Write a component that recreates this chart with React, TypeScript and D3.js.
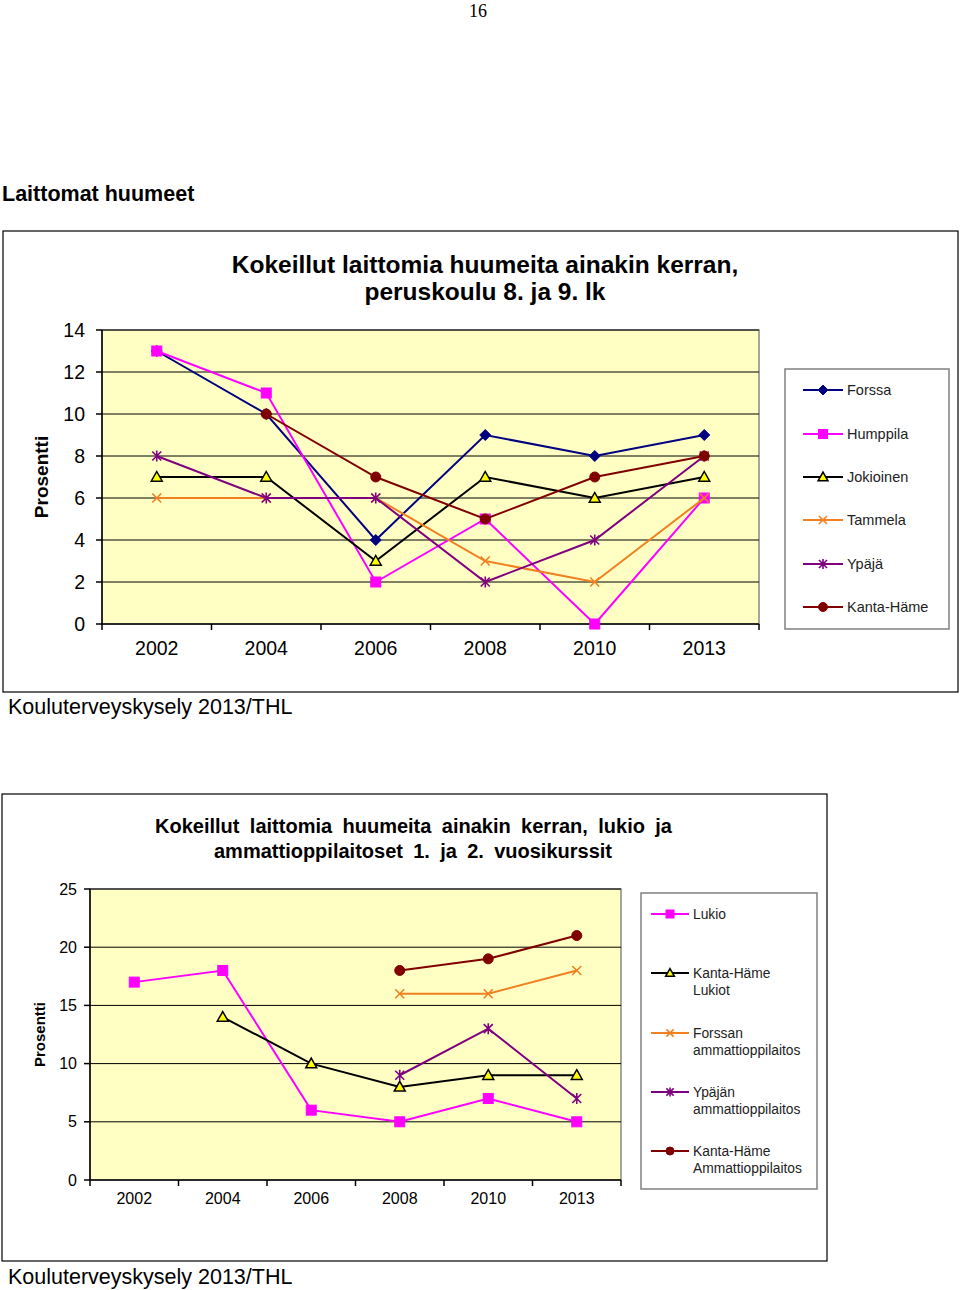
import React, { useLayoutEffect, useRef } from "react";
import * as d3 from "d3";

const years = ["2002", "2004", "2006", "2008", "2010", "2013"];

// Chart 1: peruskoulu
const forssa = [13, 10, 4, 9, 8, 9];
const humppila = [13, 11, 2, 5, 0, 6];
const jokioinen = [7, 7, 3, 7, 6, 7];
const tammela = [6, 6, 6, 3, 2, 6];
const ypaja = [8, 6, 6, 2, 4, 8];
const kantaHame = [null, 10, 7, 5, 7, 8];

// Chart 2: lukio ja ammattioppilaitokset
const lukio = [17, 18, 6, 5, 7, 5];
const khLukiot = [null, 14, 10, 8, 9, 9];
const forssanAmm = [null, null, null, 16, 16, 18];
const ypajanAmm = [null, null, null, 9, 13, 7];
const khAmm = [null, null, null, 18, 19, 21];

const yTicks1 = [0, 2, 4, 6, 8, 10, 12, 14];
const yTicks2 = [0, 5, 10, 15, 20, 25];

type Marker = "diamond" | "square" | "triangle" | "x" | "star" | "circle";
type Series = { name: string[]; values: (number | null)[]; color: string; marker: Marker };

const series1: Series[] = [
  { name: ["Forssa"], values: forssa, color: "#000080", marker: "diamond" },
  { name: ["Humppila"], values: humppila, color: "#FF00FF", marker: "square" },
  { name: ["Jokioinen"], values: jokioinen, color: "#000000", marker: "triangle" },
  { name: ["Tammela"], values: tammela, color: "#F08020", marker: "x" },
  { name: ["Ypäjä"], values: ypaja, color: "#800080", marker: "star" },
  { name: ["Kanta-Häme"], values: kantaHame, color: "#800000", marker: "circle" },
];

const series2: Series[] = [
  { name: ["Lukio"], values: lukio, color: "#FF00FF", marker: "square" },
  { name: ["Kanta-Häme", "Lukiot"], values: khLukiot, color: "#000000", marker: "triangle" },
  { name: ["Forssan", "ammattioppilaitos"], values: forssanAmm, color: "#F08020", marker: "x" },
  { name: ["Ypäjän", "ammattioppilaitos"], values: ypajanAmm, color: "#800080", marker: "star" },
  { name: ["Kanta-Häme", "Ammattioppilaitos"], values: khAmm, color: "#800000", marker: "circle" },
];

const FONT = "'Liberation Sans', Arial, sans-serif";

function JustifiedText({ x, y, width, size, children }: { x: number; y: number; width: number; size: number; children: string }) {
  const ref = useRef<SVGTextElement>(null);
  useLayoutEffect(() => {
    const el = ref.current;
    if (!el) return;
    el.setAttribute("word-spacing", "0");
    const natural = el.getComputedTextLength();
    const spaces = (children.match(/ /g) || []).length;
    if (spaces > 0) el.setAttribute("word-spacing", String((width - natural) / spaces));
  }, [children, width]);
  return (
    <text ref={ref} x={x} y={y} dy="0.35em" fontFamily={FONT} fontWeight="bold" fontSize={size} fill="#000">{children}</text>
  );
}

function MarkerShape({ type, x, y, color, s }: { type: Marker; x: number; y: number; color: string; s: number }) {
  switch (type) {
    case "diamond":
      return <path d={`M${x},${y - s * 0.55} L${x + s * 0.55},${y} L${x},${y + s * 0.55} L${x - s * 0.55},${y} Z`} fill={color} stroke={color} strokeWidth={1} />;
    case "square":
      return <rect x={x - s / 2} y={y - s / 2} width={s} height={s} fill="#FF00FF" stroke="#FF00FF" strokeWidth={1} />;
    case "triangle":
      return <path d={`M${x},${y - s * 0.55} L${x + s * 0.55},${y + s * 0.42} L${x - s * 0.55},${y + s * 0.42} Z`} fill="#FFFF00" stroke="#000" strokeWidth={1.5} />;
    case "x":
      return <path d={`M${x - s * 0.45},${y - s * 0.45} L${x + s * 0.45},${y + s * 0.45} M${x - s * 0.45},${y + s * 0.45} L${x + s * 0.45},${y - s * 0.45}`} stroke={color} strokeWidth={1.6} />;
    case "star":
      return <path d={`M${x - s * 0.45},${y - s * 0.45} L${x + s * 0.45},${y + s * 0.45} M${x - s * 0.45},${y + s * 0.45} L${x + s * 0.45},${y - s * 0.45} M${x},${y - s * 0.55} L${x},${y + s * 0.55}`} stroke={color} strokeWidth={1.6} />;
    case "circle":
      return <circle cx={x} cy={y} r={s * 0.5} fill={color} stroke={color} strokeWidth={1} />;
  }
}

type ChartCfg = {
  left: number; right: number; top: number; bottom: number;
  yMax: number; yTicks: number[]; series: Series[];
  tickFont: number; yLabelX: number; xLabelY: number;
  markerSize: number; promptX: number; promptFont: number;
};

function Chart({ cfg }: { cfg: ChartCfg }) {
  const x = d3.scaleBand<string>().domain(years).range([cfg.left, cfg.right]).padding(0);
  const y = d3.scaleLinear().domain([0, cfg.yMax]).range([cfg.bottom, cfg.top]);
  const cx = (i: number) => (x(years[i]) as number) + x.bandwidth() / 2;
  const line = d3
    .line<number | null>()
    .defined((d) => d !== null)
    .x((_, i) => cx(i))
    .y((d) => y(d as number));
  const boundaries = years.map((yy) => x(yy) as number).concat([cfg.right]);
  return (
    <g>
      <rect x={cfg.left} y={cfg.top} width={cfg.right - cfg.left} height={cfg.bottom - cfg.top} fill="#FFFFC4" stroke="#888" strokeWidth={1.5} />
      {cfg.yTicks.map((t) => (
        <g key={t}>
          {t > 0 && <line x1={cfg.left} x2={cfg.right} y1={y(t)} y2={y(t)} stroke="#000" strokeWidth={1} />}
          <line x1={cfg.left - 6} x2={cfg.left} y1={y(t)} y2={y(t)} stroke="#000" strokeWidth={1.5} />
          <text x={cfg.yLabelX} y={y(t)} dy="0.35em" textAnchor="end" fontFamily={FONT} fontSize={cfg.tickFont} fill="#000">{t}</text>
        </g>
      ))}
      <line x1={cfg.left} x2={cfg.left} y1={cfg.top} y2={cfg.bottom} stroke="#000" strokeWidth={1.5} />
      <line x1={cfg.left} x2={cfg.right} y1={cfg.bottom} y2={cfg.bottom} stroke="#000" strokeWidth={1.5} />
      {boundaries.map((b, i) => (
        <line key={i} x1={b} x2={b} y1={cfg.bottom} y2={cfg.bottom + 6} stroke="#000" strokeWidth={1.5} />
      ))}
      {years.map((yy, i) => (
        <text key={yy} x={cx(i)} y={cfg.xLabelY} dy="0.35em" textAnchor="middle" fontFamily={FONT} fontSize={cfg.tickFont} fill="#000">{yy}</text>
      ))}
      <text transform={`translate(${cfg.promptX},${(cfg.top + cfg.bottom) / 2}) rotate(-90)`} textAnchor="middle" dy="0.35em" fontFamily={FONT} fontWeight="bold" fontSize={cfg.promptFont} fill="#000">Prosentti</text>
      {cfg.series.map((s, si) => (
        <g key={si}>
          <path d={line(s.values) || ""} fill="none" stroke={s.color} strokeWidth={2} />
          {s.values.map((v, i) =>
            v === null ? null : <MarkerShape key={i} type={s.marker} x={cx(i)} y={y(v)} color={s.color} s={cfg.markerSize} />
          )}
        </g>
      ))}
    </g>
  );
}

function Legend({ series, x, y, w, h, rows, lineX1, lineX2, textX, font, lineGap, markerSize }: any) {
  return (
    <g>
      <rect x={x} y={y} width={w} height={h} fill="#fff" stroke="#808080" strokeWidth={1.5} />
      {series.map((s: Series, i: number) => (
        <g key={i}>
          <line x1={lineX1} x2={lineX2} y1={rows[i]} y2={rows[i]} stroke={s.color} strokeWidth={2} />
          <MarkerShape type={s.marker} x={(lineX1 + lineX2) / 2} y={rows[i]} color={s.color} s={markerSize} />
          {s.name.map((n, j) => (
            <text key={j} x={textX} y={rows[i] + j * lineGap} dy="0.35em" fontFamily={FONT} fontSize={font} fill="#222">{n}</text>
          ))}
        </g>
      ))}
    </g>
  );
}

export default function App() {
  const cfg1: ChartCfg = {
    left: 102, right: 759, top: 330, bottom: 624, yMax: 14, yTicks: yTicks1, series: series1,
    tickFont: 19.5, yLabelX: 85, xLabelY: 648, markerSize: 10, promptX: 41, promptFont: 19,
  };
  const cfg2: ChartCfg = {
    left: 90, right: 621, top: 889, bottom: 1180, yMax: 25, yTicks: yTicks2, series: series2,
    tickFont: 16, yLabelX: 77, xLabelY: 1198, markerSize: 10, promptX: 40, promptFont: 15,
  };
  return (
    <svg width={960} height={1290} style={{ position: "absolute", left: 0, top: 0 }} xmlns="http://www.w3.org/2000/svg">
      <rect x={0} y={0} width={960} height={1290} fill="#fff" />
      <text x={478} y={11} dy="0.35em" textAnchor="middle" fontFamily="'Liberation Serif', 'Times New Roman', serif" fontSize={18}>16</text>
      <text x={2} y={193} dy="0.35em" fontFamily={FONT} fontWeight="bold" fontSize={21.5}>Laittomat huumeet</text>

      {/* Chart 1 */}
      <rect x={3} y={231} width={955} height={461} fill="#fff" stroke="#000" strokeWidth={1.2} />
      <text x={485} y={264} dy="0.35em" textAnchor="middle" fontFamily={FONT} fontWeight="bold" fontSize={24.5}>Kokeillut laittomia huumeita ainakin kerran,</text>
      <text x={485} y={291} dy="0.35em" textAnchor="middle" fontFamily={FONT} fontWeight="bold" fontSize={24.5}>peruskoulu 8. ja 9. lk</text>
      <Chart cfg={cfg1} />
      <Legend series={series1} x={785} y={369} w={164} h={260} rows={[390, 434, 477, 520, 564, 607]}
        lineX1={803} lineX2={843} textX={847} font={14.5} lineGap={17} markerSize={9} />
      <text x={8} y={706} dy="0.35em" fontFamily={FONT} fontSize={21.5}>Kouluterveyskysely 2013/THL</text>

      {/* Chart 2 */}
      <rect x={2} y={794} width={825} height={467} fill="#fff" stroke="#000" strokeWidth={1.2} />
      <JustifiedText x={155} y={826} width={517} size={20}>Kokeillut laittomia huumeita ainakin kerran, lukio ja</JustifiedText>
      <JustifiedText x={214} y={851} width={398} size={20}>ammattioppilaitoset 1. ja 2. vuosikurssit</JustifiedText>
      <Chart cfg={cfg2} />
      <Legend series={series2} x={641} y={893} w={176} h={296} rows={[914, 973, 1033, 1092, 1151]}
        lineX1={651} lineX2={689} textX={693} font={13.8} lineGap={17} markerSize={8} />
      <text x={8} y={1276} dy="0.35em" fontFamily={FONT} fontSize={21.5}>Kouluterveyskysely 2013/THL</text>
    </svg>
  );
}
